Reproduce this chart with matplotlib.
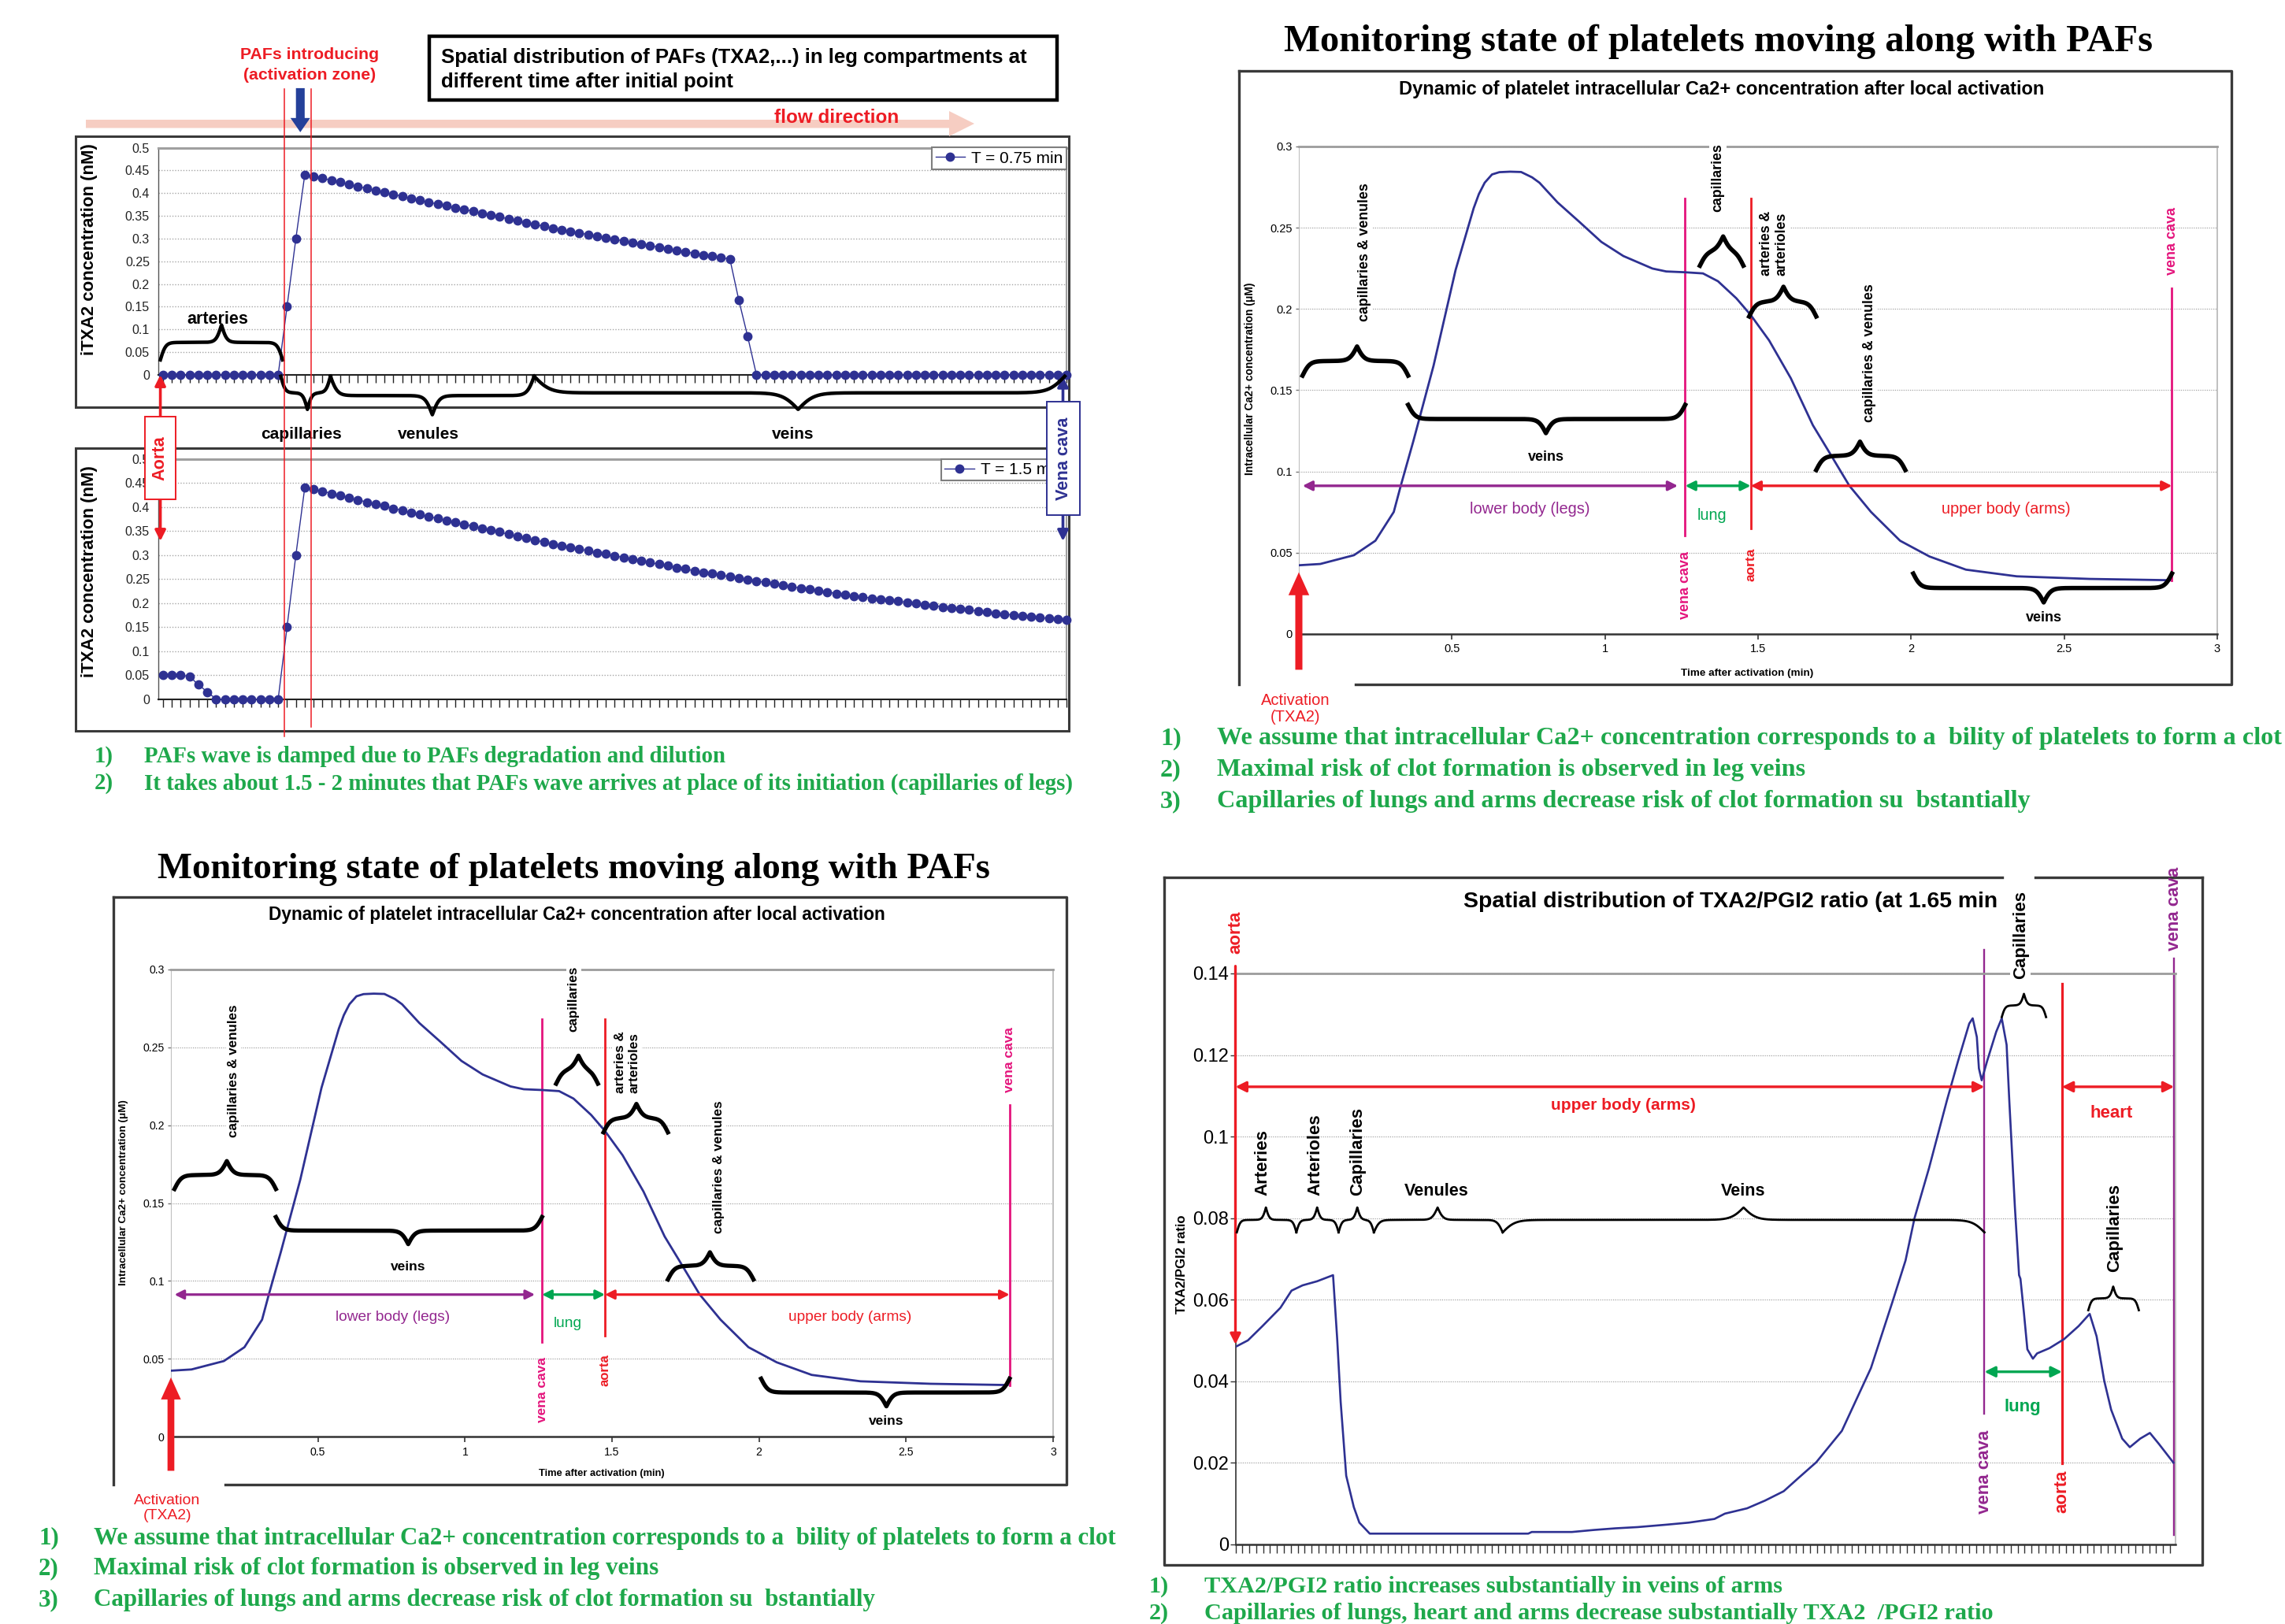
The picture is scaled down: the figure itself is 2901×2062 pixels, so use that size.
import numpy as np
import matplotlib
matplotlib.use('Agg')
import matplotlib.pyplot as plt
from matplotlib.patches import Rectangle, Polygon
from matplotlib.lines import Line2D
from matplotlib.transforms import blended_transform_factory

plt.rcParams['font.family'] = ['Liberation Sans', 'DejaVu Sans']
SERIF = ['Liberation Serif', 'DejaVu Serif']

W, H = 2901, 2062

BLUE = '#2e3192'
RED = '#ed1c24'
PINK = '#e4147c'
PURPLE = '#93278f'
GREEN = '#00a651'
NOTE = '#1ea84b'
GRID = '#a6a6a6'

# ---------------- data ----------------
# iTXA2 (nM) in each leg compartment (arteries -> vena cava)
compartment = np.arange(103)
txa2_075min = [
    0, 0, 0, 0, 0, 0, 0, 0, 0, 0, 0, 0, 0, 0,
    0.15, 0.30, 0.44,
    0.437, 0.433, 0.428, 0.424, 0.419, 0.415, 0.410, 0.406, 0.402, 0.397,
    0.393, 0.388, 0.384, 0.380, 0.376, 0.372, 0.368, 0.364, 0.360, 0.356,
    0.352, 0.348, 0.343, 0.339, 0.335, 0.331, 0.327, 0.323, 0.319, 0.316,
    0.312, 0.309, 0.305, 0.302, 0.298, 0.295, 0.291, 0.288, 0.284, 0.281,
    0.278, 0.274, 0.271, 0.267, 0.264, 0.261, 0.258, 0.255,
    0.165, 0.085,
    0, 0, 0, 0, 0, 0, 0, 0, 0, 0, 0, 0,
    0, 0, 0, 0, 0, 0, 0, 0, 0, 0, 0, 0,
    0, 0, 0, 0, 0, 0, 0, 0, 0, 0, 0, 0,
]
txa2_15min = [
    0.05, 0.05, 0.05, 0.047, 0.03, 0.015, 0, 0, 0, 0, 0, 0, 0, 0,
    0.15, 0.30, 0.44,
    0.437, 0.433, 0.428, 0.424, 0.419, 0.415, 0.410, 0.406, 0.402, 0.397,
    0.393, 0.388, 0.384, 0.380, 0.376, 0.372, 0.368, 0.364, 0.360, 0.356,
    0.352, 0.348, 0.343, 0.339, 0.335, 0.331, 0.327, 0.323, 0.319, 0.316,
    0.312, 0.309, 0.305, 0.302, 0.298, 0.295, 0.291, 0.288, 0.284, 0.281,
    0.278, 0.274, 0.271, 0.267, 0.264, 0.261, 0.258, 0.255,
    0.252, 0.249, 0.246, 0.243, 0.240, 0.237, 0.234, 0.231, 0.229, 0.226,
    0.223, 0.220, 0.217, 0.215, 0.213, 0.210, 0.208, 0.206, 0.204, 0.201,
    0.199, 0.197, 0.195, 0.192, 0.190, 0.188, 0.186, 0.183, 0.181, 0.179,
    0.177, 0.175, 0.173, 0.172, 0.170, 0.168, 0.167, 0.165,
]
txa2_ticks = [0, 0.05, 0.1, 0.15, 0.2, 0.25, 0.3, 0.35, 0.4, 0.45, 0.5]
txa2_ticklabels = ['0', '0.05', '0.1', '0.15', '0.2', '0.25', '0.3', '0.35', '0.4', '0.45', '0.5']

# platelet Ca2+ (uM) vs time after activation (min)
ca_time = [0.0, 0.07, 0.18, 0.25, 0.31, 0.333, 0.374, 0.44, 0.512, 0.571,
           0.588, 0.607, 0.631, 0.655, 0.69, 0.726, 0.762, 0.786, 0.845, 0.917,
           0.988, 1.06, 1.155, 1.2, 1.262, 1.32, 1.369, 1.429, 1.476, 1.536,
           1.607, 1.679, 1.726, 1.798, 1.869, 1.964, 2.06, 2.179, 2.345, 2.583,
           2.845]
ca_conc = [0.0423, 0.0431, 0.0485, 0.0574, 0.0751, 0.0913, 0.1187, 0.1651, 0.224, 0.262,
           0.2707, 0.2777, 0.2828, 0.2842, 0.2845, 0.2843, 0.281, 0.2777, 0.2656, 0.2535,
           0.2413, 0.2326, 0.2249, 0.2231, 0.2226, 0.2219, 0.2171, 0.2066, 0.1963, 0.1807,
           0.1574, 0.1285, 0.1139, 0.0913, 0.0751, 0.0574, 0.0477, 0.0396, 0.0355, 0.0339,
           0.0331]
ca_xticks = [0, 0.5, 1, 1.5, 2, 2.5, 3]
ca_xticklabels = ['', '0.5', '1', '1.5', '2', '2.5', '3']
ca_yticks = [0, 0.05, 0.1, 0.15, 0.2, 0.25, 0.3]
ca_yticklabels = ['0', '0.05', '0.1', '0.15', '0.2', '0.25', '0.3']

# TXA2/PGI2 ratio along the upper circulation (compartment position)
ratio_pos = [0, 1.8, 3.9, 6.5, 8.1, 9.7, 11.8, 14.1, 14.7, 15.2,
             16.0, 17.1, 17.9, 19.4, 42.3, 42.8, 48.6, 51.8, 54.9, 58.1,
             62.3, 65.5, 69.2, 70.7, 73.9, 76.5, 79.2, 81.3, 83.9, 87.6,
             91.8, 94.9, 96.8, 98.1, 100.2, 102.3, 102.8, 104.4, 106.0, 106.5,
             107.1, 107.4, 107.8, 108.6, 109.9, 110.7, 111.4, 111.8, 112.6, 113.2,
             113.4, 113.9, 114.4, 115.2, 115.8, 117.6, 119.7, 121.8, 123.4, 124.4,
             125.5, 126.5, 128.1, 129.2, 130.7, 132.1, 133.4, 135.5]
ratio_val = [0.0484, 0.050, 0.0535, 0.058, 0.0622, 0.0635, 0.0645, 0.066, 0.0503, 0.0349,
             0.0168, 0.0091, 0.0053, 0.0026, 0.0026, 0.003, 0.003, 0.0035, 0.0039, 0.0042,
             0.0048, 0.0053, 0.0062, 0.0075, 0.0088, 0.0107, 0.013, 0.0162, 0.0201, 0.0278,
             0.0432, 0.0594, 0.0696, 0.08, 0.0923, 0.1058, 0.109, 0.1186, 0.1277, 0.129,
             0.1244, 0.1167, 0.1138, 0.1186, 0.1257, 0.129, 0.1225, 0.1084, 0.0826, 0.066,
             0.0651, 0.0568, 0.0478, 0.0455, 0.0468, 0.0481, 0.0503, 0.0535, 0.0565, 0.051,
             0.0401, 0.033, 0.0259, 0.0238, 0.0259, 0.0273, 0.0246, 0.02]
ratio_ticks = np.arange(136)
ratio_yticks = [0, 0.02, 0.04, 0.06, 0.08, 0.1, 0.12, 0.14]
ratio_yticklabels = ['0', '0.02', '0.04', '0.06', '0.08', '0.1', '0.12', '0.14']

notes_legs = ['PAFs wave is damped due to PAFs degradation and dilution',
              'It takes about 1.5 - 2 minutes that PAFs wave arrives at place of its initiation (capillaries of legs)']
notes_calcium = ['We assume that intracellular Ca2+ concentration corresponds to a  bility of platelets to form a clot',
                 'Maximal risk of clot formation is observed in leg veins',
                 'Capillaries of lungs and arms decrease risk of clot formation su  bstantially']
notes_ratio = ['TXA2/PGI2 ratio increases substantially in veins of arms',
               'Capillaries of lungs, heart and arms decrease substantially TXA2  /PGI2 ratio']

# ---------------- helpers ----------------
fig = plt.figure(figsize=(W / 100, H / 100), dpi=100)


def rect(x0, y0, x1, y1):
    return [x0 / W, 1 - y1 / H, (x1 - x0) / W, (y1 - y0) / H]


def layer(z):
    a = fig.add_axes([0, 0, 1, 1], zorder=z)
    a.set_xlim(0, W)
    a.set_ylim(H, 0)
    a.axis('off')
    return a


bg = layer(-5)
fg = layer(5)
WHITE_BOX = dict(boxstyle='square,pad=0.12', fc='white', ec='none')


def brace(ax, x0, xm, x1, y_end, y_tip, r, lw):
    xs = np.linspace(x0, x1, 2000)
    sig = lambda z: 0.5 * (1 + np.tanh(z / 2))
    left = sig((xs - x0) / r) + sig((xs - xm) / r) - 0.5
    right = sig((x1 - xs) / r) + sig((xm - xs) / r) - 0.5
    f = np.where(xs <= xm, left, right)
    ax.plot(xs, y_end + (y_tip - y_end) * f, color='black', lw=lw, clip_on=False, zorder=4)


def span_arrow(ax, x0, x1, y, color, lw, ms):
    ax.annotate('', xy=(x1, y), xytext=(x0, y),
                arrowprops=dict(arrowstyle='<|-|>', color=color, lw=lw,
                                mutation_scale=ms, shrinkA=0, shrinkB=0),
                annotation_clip=False)


def point_arrow(ax, x, y_from, y_to, color, lw, ms):
    ax.annotate('', xy=(x, y_to), xytext=(x, y_from),
                arrowprops=dict(arrowstyle='-|>', color=color, lw=lw,
                                mutation_scale=ms, shrinkA=0, shrinkB=0),
                annotation_clip=False)


def fat_arrow(ax, x, y_from, y_to, color, width, headwidth, headlength):
    ax.annotate('', xy=(x, y_to), xytext=(x, y_from),
                arrowprops=dict(facecolor=color, edgecolor='none', width=width,
                                headwidth=headwidth, headlength=headlength, shrink=0),
                annotation_clip=False)


def notes(x_num, x_text, ys, lines, size):
    kw = dict(color=NOTE, fontsize=size, weight='bold', family=SERIF, va='center')
    for i, (y, s) in enumerate(zip(ys, lines)):
        bg.text(x_num, y, f'{i + 1})', **kw)
        bg.text(x_text, y, s, **kw)


# ---------------- top left: PAFs along the legs ----------------
def txa2_chart(px, values, label, ylab_y):
    ax = fig.add_axes(rect(*px))
    ax.plot(compartment, values, '-o', color=BLUE, lw=1.0, ms=7.5, label=label,
            clip_on=False, zorder=3)
    ax.set_xlim(-0.53, 102)
    ax.set_ylim(0, 0.5)
    ax.set_yticks(txa2_ticks, txa2_ticklabels)
    ax.set_xticks(compartment)
    ax.tick_params(axis='x', length=7, width=1, labelbottom=False, color='#222')
    ax.tick_params(axis='y', length=0, pad=8, labelsize=11.5, labelcolor='#222')
    ax.grid(axis='y', ls=(0, (1, 1.5)), color=GRID, lw=1)
    ax.spines['top'].set(color='#a0a0a0', lw=2.2)
    ax.spines['right'].set(color='#a0a0a0', lw=1.5)
    ax.spines['left'].set(color='#555555', lw=1)
    ax.spines['bottom'].set(color='#222222', lw=1.5)
    leg = ax.legend(loc='upper right', fontsize=15, frameon=True, fancybox=False,
                    edgecolor='#7f7f7f', framealpha=1, borderaxespad=0, borderpad=0.2,
                    handlelength=1.8, handletextpad=0.4)
    leg.get_frame().set_linewidth(1.5)
    ax.text(-8.3, ylab_y, 'iTXA2 concentration (nM)', rotation=90, ha='center',
            va='center', fontsize=16, weight='bold')
    return ax


bg.add_patch(Rectangle((96, 173), 1261, 344, fill=False, ec='#3a3a3a', lw=2.2))
bg.add_patch(Rectangle((96, 569), 1261, 359, fill=False, ec='#3a3a3a', lw=2.2))
ax1 = txa2_chart((201, 187.5, 1354, 476), txa2_075min, 'T = 0.75 min', 0.277)
ax2 = txa2_chart((201, 582.7, 1354, 887.7), txa2_15min, 'T = 1.5 min', 0.266)

bg.add_patch(Polygon([(109, 152), (1205, 152), (1205, 141), (1237, 157), (1205, 173),
                      (1205, 162.5), (109, 162.5)], closed=True, fc='#f6cdc2', ec='none'))
bg.text(1062, 150, 'flow direction', color=RED, fontsize=17.5, weight='bold',
        ha='center', va='center')
bg.add_patch(Rectangle((545, 46), 797, 81, fill=False, ec='black', lw=3.2))
bg.text(560, 73, 'Spatial distribution of PAFs (TXA2,...) in leg compartments at',
        fontsize=18.5, weight='bold', va='center')
bg.text(560, 104, 'different time after initial point', fontsize=18.5, weight='bold', va='center')
bg.text(393, 69.6, 'PAFs introducing', color=RED, fontsize=15.3, weight='bold',
        ha='center', va='center')
bg.text(393, 95.7, '(activation zone)', color=RED, fontsize=15.3, weight='bold',
        ha='center', va='center')

# activation zone limits across both charts
tr = blended_transform_factory(ax1.transData, fig.transFigure)
for x, y_end in [(13.74, 935), (16.76, 923)]:
    fig.add_artist(Line2D([x, x], [1 - 112.5 / H, 1 - y_end / H], transform=tr,
                          color=RED, lw=1.1))
fat_arrow(ax1, 15.5, 0.631, 0.534, '#24409a', 8, 18, 13)

brace(ax1, -0.3, 6.6, 13.5, 0.033, 0.11, 0.3, 3.2)
ax1.text(6.2, 0.122, 'arteries', ha='center', va='center', fontsize=15.5, weight='bold')
for x0, xm, x1, yt, r in [(13.3, 16.3, 18.9, -0.076, 0.25),
                          (18.9, 30.4, 41.9, -0.088, 0.4),
                          (41.9, 71.7, 101.8, -0.076, 0.9)]:
    brace(ax1, x0, xm, x1, -0.003, yt, r, 3.2)
for x, s in [(15.6, 'capillaries'), (30, 'venules'), (71.1, 'veins')]:
    ax1.text(x, -0.131, s, ha='center', va='center', fontsize=15, weight='bold')

fg.add_patch(Rectangle((183.5, 529), 39.3, 105, fc='white', ec=RED, lw=1.4))
fg.text(203.2, 581.5, 'Aorta', rotation=90, color=RED, ha='center', va='center',
        fontsize=15.6, weight='bold')
point_arrow(ax1, -0.3, -0.092, 0.0, RED, 2.6, 20)
point_arrow(ax2, -0.3, 0.416, 0.329, RED, 2.6, 20)
fg.add_patch(Rectangle((1329, 510), 42, 144, fc='white', ec=BLUE, lw=1.4))
fg.text(1350, 582, 'Vena cava', rotation=90, color=BLUE, ha='center', va='center',
        fontsize=15.7, weight='bold')
point_arrow(ax1, 101.6, -0.059, -0.003, BLUE, 2.6, 20)
point_arrow(ax2, 101.6, 0.383, 0.329, BLUE, 2.6, 20)

notes(120, 183, [961, 995], notes_legs, 20.8)


# ---------------- Ca2+ panels (top right, bottom left) ----------------
def ca_panel(px, s):
    ax = fig.add_axes(rect(*px))
    ax.plot(ca_time, ca_conc, color=BLUE, lw=2.0, zorder=3)
    ax.set_xlim(0, 3)
    ax.set_ylim(0, 0.3)
    ax.set_xticks(ca_xticks, ca_xticklabels)
    ax.set_yticks(ca_yticks, ca_yticklabels)
    ax.tick_params(axis='x', length=5, width=1.2, pad=4, labelsize=10.5 * s, color='#333')
    ax.tick_params(axis='y', length=3, width=1, pad=3, labelsize=10.5 * s, color='#777')
    ax.grid(axis='y', ls=(0, (1, 1.2)), color=GRID, lw=0.9)
    ax.spines['top'].set(color='#9c9c9c', lw=2)
    ax.spines['right'].set(color='#b5b5b5', lw=1.2)
    ax.spines['left'].set(color='#c0c0c0', lw=0.8)
    ax.spines['bottom'].set(color='#333333', lw=1.8)

    frame = dict(color='#3a3a3a', lw=2.4, clip_on=False)
    ax.plot([-0.196, 3.046, 3.046, 0.185], [0.3465, 0.3465, -0.031, -0.031], **frame)
    ax.plot([-0.196, -0.196], [0.3465, -0.031], **frame)

    ax.text(1.369, 0.3645, 'Monitoring state of platelets moving along with PAFs',
            ha='center', va='center', fontsize=35 * s, weight='bold', family=SERIF)
    ax.text(1.381, 0.335, 'Dynamic of platelet intracellular Ca2+ concentration after local activation',
            ha='center', va='center', fontsize=17 * s, weight='bold')
    ax.text(1.464, -0.024, 'Time after activation (min)', ha='center', va='center',
            fontsize=9.7 * s, weight='bold')
    ax.text(-0.16, 0.157, 'Intracellular Ca2+ concentration (μM)', rotation=90,
            ha='center', va='center', fontsize=10 * s, weight='bold')

    lab = dict(rotation=90, ha='center', va='center', weight='bold')
    ax.plot([1.262, 1.262], [0.0607, 0.268], color=PINK, lw=2.0, clip_on=False)
    ax.plot([1.476, 1.476], [0.065, 0.268], color=RED, lw=2.0, clip_on=False)
    ax.plot([2.852, 2.852], [0.033, 0.213], color=PINK, lw=2.0, clip_on=False)
    ax.text(1.262, 0.030, 'vena cava', color=PINK, fontsize=13 * s, **lab)
    ax.text(1.476, 0.0425, 'aorta', color=RED, fontsize=12.5 * s, **lab)
    ax.text(2.852, 0.242, 'vena cava', color=PINK, fontsize=13 * s, **lab)

    span_arrow(ax, 0.012, 1.238, 0.0912, PURPLE, 2.4 * s, 18 * s)
    span_arrow(ax, 1.262, 1.476, 0.0912, GREEN, 2.4 * s, 18 * s)
    span_arrow(ax, 1.476, 2.852, 0.0912, RED, 2.4 * s, 18 * s)
    reg = dict(ha='center', va='center', fontsize=14.4 * s)
    ax.text(0.755, 0.0767, 'lower body (legs)', color=PURPLE, **reg)
    ax.text(1.35, 0.0727, 'lung', color=GREEN, **reg)
    ax.text(2.31, 0.0767, 'upper body (arms)', color=RED, **reg)

    for x0, xm, x1, ye, yt in [(0.012, 0.19, 0.357, 0.159, 0.177),
                               (0.357, 0.807, 1.262, 0.141, 0.1236),
                               (1.31, 1.386, 1.452, 0.2266, 0.2447),
                               (1.471, 1.583, 1.69, 0.1954, 0.2137),
                               (1.69, 1.833, 1.981, 0.1009, 0.1184),
                               (2.007, 2.433, 2.852, 0.0372, 0.0194)]:
        brace(ax, x0, xm, x1, ye, yt, 0.012, 4 * s)
    ax.text(0.214, 0.235, 'capillaries & venules', fontsize=12.8 * s, bbox=WHITE_BOX, **lab)
    ax.text(1.369, 0.281, 'capillaries', fontsize=12.8 * s, bbox=WHITE_BOX, **lab)
    ax.text(1.552, 0.2405, 'arteries &\narterioles', fontsize=12.8 * s, bbox=WHITE_BOX,
            multialignment='left', **lab)
    ax.text(1.864, 0.173, 'capillaries & venules', fontsize=12.8 * s, bbox=WHITE_BOX, **lab)
    ax.text(0.807, 0.109, 'veins', ha='center', va='center', fontsize=13 * s, weight='bold')
    ax.text(2.433, 0.0097, 'veins', ha='center', va='center', fontsize=13 * s, weight='bold')

    fat_arrow(ax, 0, -0.022, 0.038, RED, 6.5 * s, 19 * s, 21 * s)
    ax.text(-0.012, -0.046, 'Activation\n(TXA2)', color=RED, ha='center', va='center',
            fontsize=14.5 * s, linespacing=1.15)
    return ax


ca_panel((1649, 186, 2815, 805), 1.0)
ca_panel((217, 1231, 1337, 1824), 0.96)
notes(1473, 1545, [938, 978, 1018], notes_calcium, 23.2)
notes(49, 119, [1953, 1992, 2032], notes_calcium, 22.3)

# ---------------- bottom right: TXA2/PGI2 ratio ----------------
ax = fig.add_axes(rect(1568.5, 1236, 2762, 1960.7))
ax.plot(ratio_pos, ratio_val, color=BLUE, lw=1.9, zorder=3)
ax.set_xlim(0, 135.8)
ax.set_ylim(0, 0.14)
ax.set_xticks(ratio_ticks)
ax.set_yticks(ratio_yticks, ratio_yticklabels)
ax.tick_params(axis='x', length=8, width=1, labelbottom=False, color='#333')
ax.tick_params(axis='y', length=5, width=1, pad=1, labelsize=17, color='#333')
ax.grid(axis='y', ls=(0, (1, 1.2)), color=GRID, lw=0.9)
ax.spines['top'].set(color='#9c9c9c', lw=2)
ax.spines['right'].set(color='#b5b5b5', lw=1.2)
ax.spines['left'].set(color='#333333', lw=1.2)
ax.spines['bottom'].set(color='#333333', lw=1.8)

fr = dict(color='#3a3a3a', lw=2.4)
bg.plot([1478, 2542], [1114, 1114], **fr)
bg.plot([2584, 2796], [1114, 1114], **fr)
bg.plot([1478, 1478, 2796, 2796], [1114, 1987, 1987, 1114], **fr)

ax.text(32.9, 0.1576, 'Spatial distribution of TXA2/PGI2 ratio (at 1.65 min', ha='left',
        va='center', fontsize=20.4, weight='bold')
ax.text(-7.7, 0.0687, 'TXA2/PGI2 ratio', rotation=90, ha='center', va='center',
        fontsize=12, weight='bold')

lab = dict(rotation=90, ha='center', va='center', weight='bold', fontsize=16)
point_arrow(ax, 0, 0.1418, 0.049, RED, 2.4, 20)
ax.text(0, 0.150, 'aorta', color=RED, **lab)
ax.plot([108.2, 108.2], [0.032, 0.1458], color=PURPLE, lw=1.7, clip_on=False)
ax.text(108.2, 0.0178, 'vena cava', color=PURPLE, **lab)
ax.plot([119.4, 119.4], [0.0198, 0.1375], color=RED, lw=2.3, clip_on=False)
ax.text(119.4, 0.0129, 'aorta', color=RED, **lab)
ax.plot([135.6, 135.6], [0.0022, 0.1437], color=PURPLE, lw=1.7, clip_on=False)
ax.text(135.6, 0.1558, 'vena cava', color=PURPLE, **lab)
ax.text(113.4, 0.1495, 'Capillaries', color='black', bbox=WHITE_BOX, **lab)
brace(ax, 110.7, 113.9, 117.1, 0.1293, 0.135, 0.25, 2.0)

span_arrow(ax, 0, 108.2, 0.1122, RED, 2.4, 20)
span_arrow(ax, 119.4, 135.6, 0.1122, RED, 2.4, 20)
span_arrow(ax, 108.2, 119.4, 0.0423, GREEN, 2.4, 20)
hz = dict(ha='center', va='center', weight='bold')
ax.text(56, 0.1077, 'upper body (arms)', color=RED, fontsize=15, **hz)
ax.text(126.5, 0.1058, 'heart', color=RED, fontsize=16, **hz)
ax.text(113.7, 0.0336, 'lung', color=GREEN, fontsize=16, **hz)

for x0, xm, x1, r in [(0.2, 4.4, 8.8, 0.25), (8.8, 11.8, 14.9, 0.25), (14.9, 17.6, 20, 0.25),
                      (20, 29.2, 38.6, 0.4), (38.6, 73.4, 108.2, 0.9)]:
    brace(ax, x0, xm, x1, 0.0765, 0.0826, r, 2.0)
up = dict(rotation=90, ha='center', va='bottom', weight='bold', fontsize=16)
ax.text(3.9, 0.0855, 'Arteries', **up)
ax.text(11.5, 0.0855, 'Arterioles', **up)
ax.text(17.6, 0.0855, 'Capillaries', **up)
ax.text(29, 0.0866, 'Venules', fontsize=15.5, **hz)
ax.text(73.4, 0.0866, 'Veins', fontsize=15.5, **hz)
brace(ax, 123.2, 126.8, 130.5, 0.0574, 0.0632, 0.25, 2.0)
ax.text(127, 0.0667, 'Capillaries', **up)

notes(1459, 1529, [2015, 2048], notes_ratio, 21.8)

fig.savefig('out.png', dpi=100, facecolor='white')
